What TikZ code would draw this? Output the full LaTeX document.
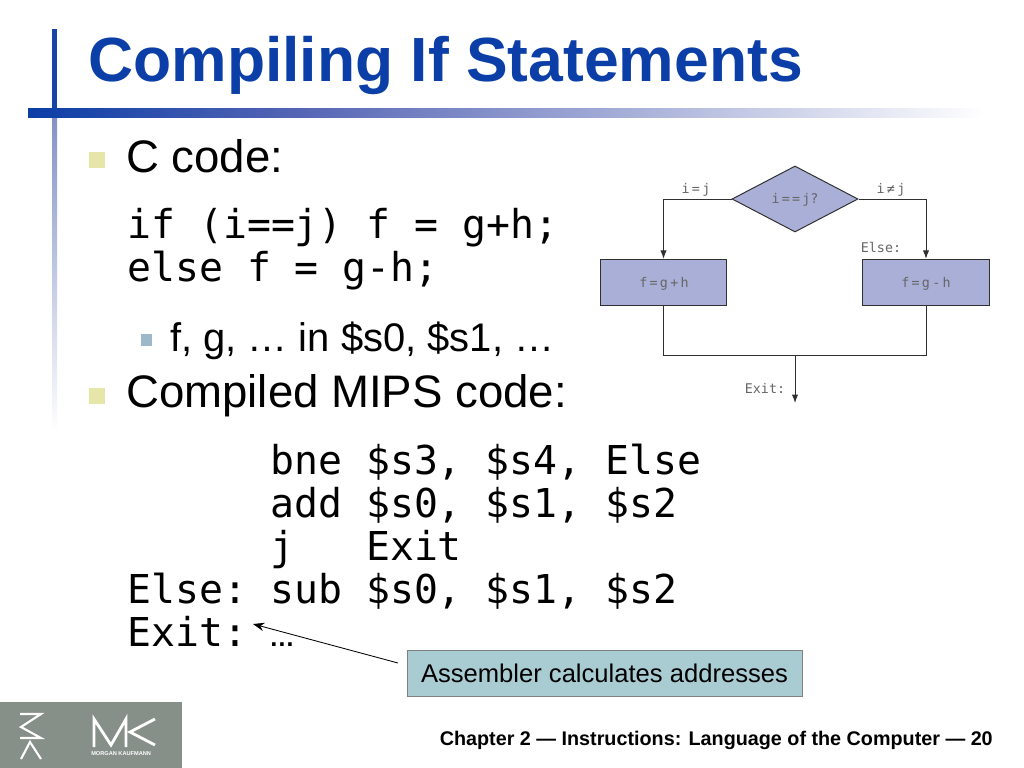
\documentclass[tikz,border=0pt]{standalone}
\usepackage{fontspec}
\setmainfont{Liberation Sans}
\setmonofont{DejaVu Sans Mono}
\usetikzlibrary{shapes.geometric,arrows.meta}
\definecolor{titleblue}{HTML}{0B3EA6}
\definecolor{barmid}{HTML}{5565B5}
\definecolor{barpale}{HTML}{8592C8}
\definecolor{flowfill}{HTML}{A9AFD6}
\definecolor{flowline}{HTML}{303030}
\definecolor{flowtext}{HTML}{666666}
\definecolor{notefill}{HTML}{A8CCD2}
\definecolor{logogray}{HTML}{868F88}
\definecolor{bulletyellow}{HTML}{E6E6A8}
\definecolor{bulletblue}{HTML}{9DB9C9}
\tikzset{
  bodytext/.style={anchor=base west,inner sep=0pt,font=\fontsize{32.4}{32.4}\selectfont},
  subtext/.style={anchor=base west,inner sep=0pt,font=\fontsize{28.4}{28.4}\selectfont},
  codetext/.style={anchor=base west,inner sep=0pt,font=\ttfamily\fontsize{28.3}{28.3}\selectfont},
  flowlabel/.style={inner sep=0pt,text=flowtext,font=\ttfamily\fontsize{9.5}{9.5}\selectfont},
  flowbox/.style={draw=flowline,fill=flowfill,line width=0.7pt,minimum width=3.16cm,minimum height=1.16cm,inner sep=0pt},
  flowedge/.style={draw=flowline,line width=0.7pt},
  flowarrow/.style={flowedge,-{Latex[length=6pt,width=4.5pt]}}
}
\begin{document}
\begin{tikzpicture}[x=0.025cm,y=-0.025cm]
\useasboundingbox (0,0) rectangle (1024,768);
% bars
\fill[titleblue!85!barmid] (52,29) rectangle (57,109);
\fill[top color=barpale,bottom color=white] (52,118) rectangle (57,432);
\fill[left color=titleblue,right color=barmid] (28,109) rectangle (300,118);
\fill[left color=barmid,right color=white] (300,109) rectangle (985,118);
% title
\node[anchor=base west,inner sep=0pt,text=titleblue,font=\bfseries\fontsize{44.4}{44.4}\selectfont] (title) at (88,82) {Compiling If Statements};
% bullets
\fill[bulletyellow] (89,152) rectangle (105,168);
\fill[bulletyellow] (89,388) rectangle (105,404);
\fill[bulletblue] (141,334) rectangle (152,346);
% left text
\node[bodytext] (ccode) at (126,172) {C code:};
\node[codetext] (cif) at (127,238) {if (i==j) f = g+h;};
\node[codetext] (celse) at (127,281) {else f = g-h;};
\node[subtext] (regs) at (170,351) {f, g, … in \$s0, \$s1, …};
\node[bodytext] (mips) at (126,407) {Compiled MIPS code:};
\node[codetext] (bne) at (270,474) {bne \$s3, \$s4, Else};
\node[codetext] (add) at (270,517) {add \$s0, \$s1, \$s2};
\node[codetext] (jmp) at (270,560) {j\ \ \ Exit};
\node[codetext] (elselbl) at (127,603) {Else:};
\node[codetext] (sub) at (270,603) {sub \$s0, \$s1, \$s2};
\node[codetext] (exitlbl) at (127,646) {Exit:};
\node[anchor=base west,inner sep=0pt,font=\bfseries\fontsize{18}{18}\selectfont] (dots) at (269,646) {…};
% flow chart
\node[diamond,aspect=1.9,draw=flowline,fill=flowfill,line width=0.7pt,minimum width=3.15cm,minimum height=1.65cm,inner sep=0pt] (test) at (795,199) {};
\node[flowlabel] (testtxt) at (795,200) {i\,=\,=\,j?};
\node[flowbox] (fadd) at (663.5,282.5) {};
\node[flowbox] (fsub) at (926,282.5) {};
\node[flowlabel] at (664,284) {f\,=\,g\,+\,h};
\node[flowlabel] at (926,284) {f\,=\,g\,-\,h};
\node[flowlabel] (eqlbl) at (696,190) {i\,=\,j};
\node[flowlabel] (nelbl) at (891,190) {i\,≠\,j};
\node[flowlabel] (elsetag) at (881,247) {Else:};
\node[flowlabel] (exittag) at (765,388) {Exit:};
\coordinate (join) at (795,355);
\coordinate (exitend) at (795,403);
\draw[flowarrow] (test.west) -| (fadd.north);
\draw[flowarrow] (test.east) -| (fsub.north);
\draw[flowedge] (fadd.south) |- (join);
\draw[flowedge] (fsub.south) |- (join);
\draw[flowarrow] (join) -- (exitend);
% note
\node[draw=gray,fill=notefill,line width=0.6pt,minimum width=9.875cm,minimum height=1.15cm,inner sep=0pt,font=\fontsize{18.2}{18.2}\selectfont] (note) at (604.5,673) {Assembler calculates addresses};
\coordinate (notefoot) at (398,663);
\coordinate (notetip) at (253,624);
\draw[-{Stealth[length=8pt,width=6pt]},line width=0.6pt] (notefoot) -- (notetip);
% footer
\node[anchor=base east,inner sep=0pt,font=\bfseries\fontsize{14.05}{14.05}\selectfont] (footer) at (993,745) {Chapter 2 — Instructions: Language of the Computer — 20};
% logo
\fill[logogray] (0,702) rectangle (182,768);
\draw[white,line width=2pt] (94,747) -- (94,719) -- (111,745) -- (126,719) -- (126,747);
\draw[white,line width=2pt] (155,719) -- (130,732) -- (155,745);
\node[anchor=base west,inner sep=0pt,text=white,font=\bfseries\fontsize{4}{4}\selectfont] (publisher) at (91,755) {MORGAN KAUFMANN};
\draw[white,line width=1.5pt] (20,714) -- (41,714) -- (21,727) -- (41,738) -- (20,738);
\draw[white,line width=1.5pt] (21,759) -- (30,742) -- (41,759);
\end{tikzpicture}
\end{document}
